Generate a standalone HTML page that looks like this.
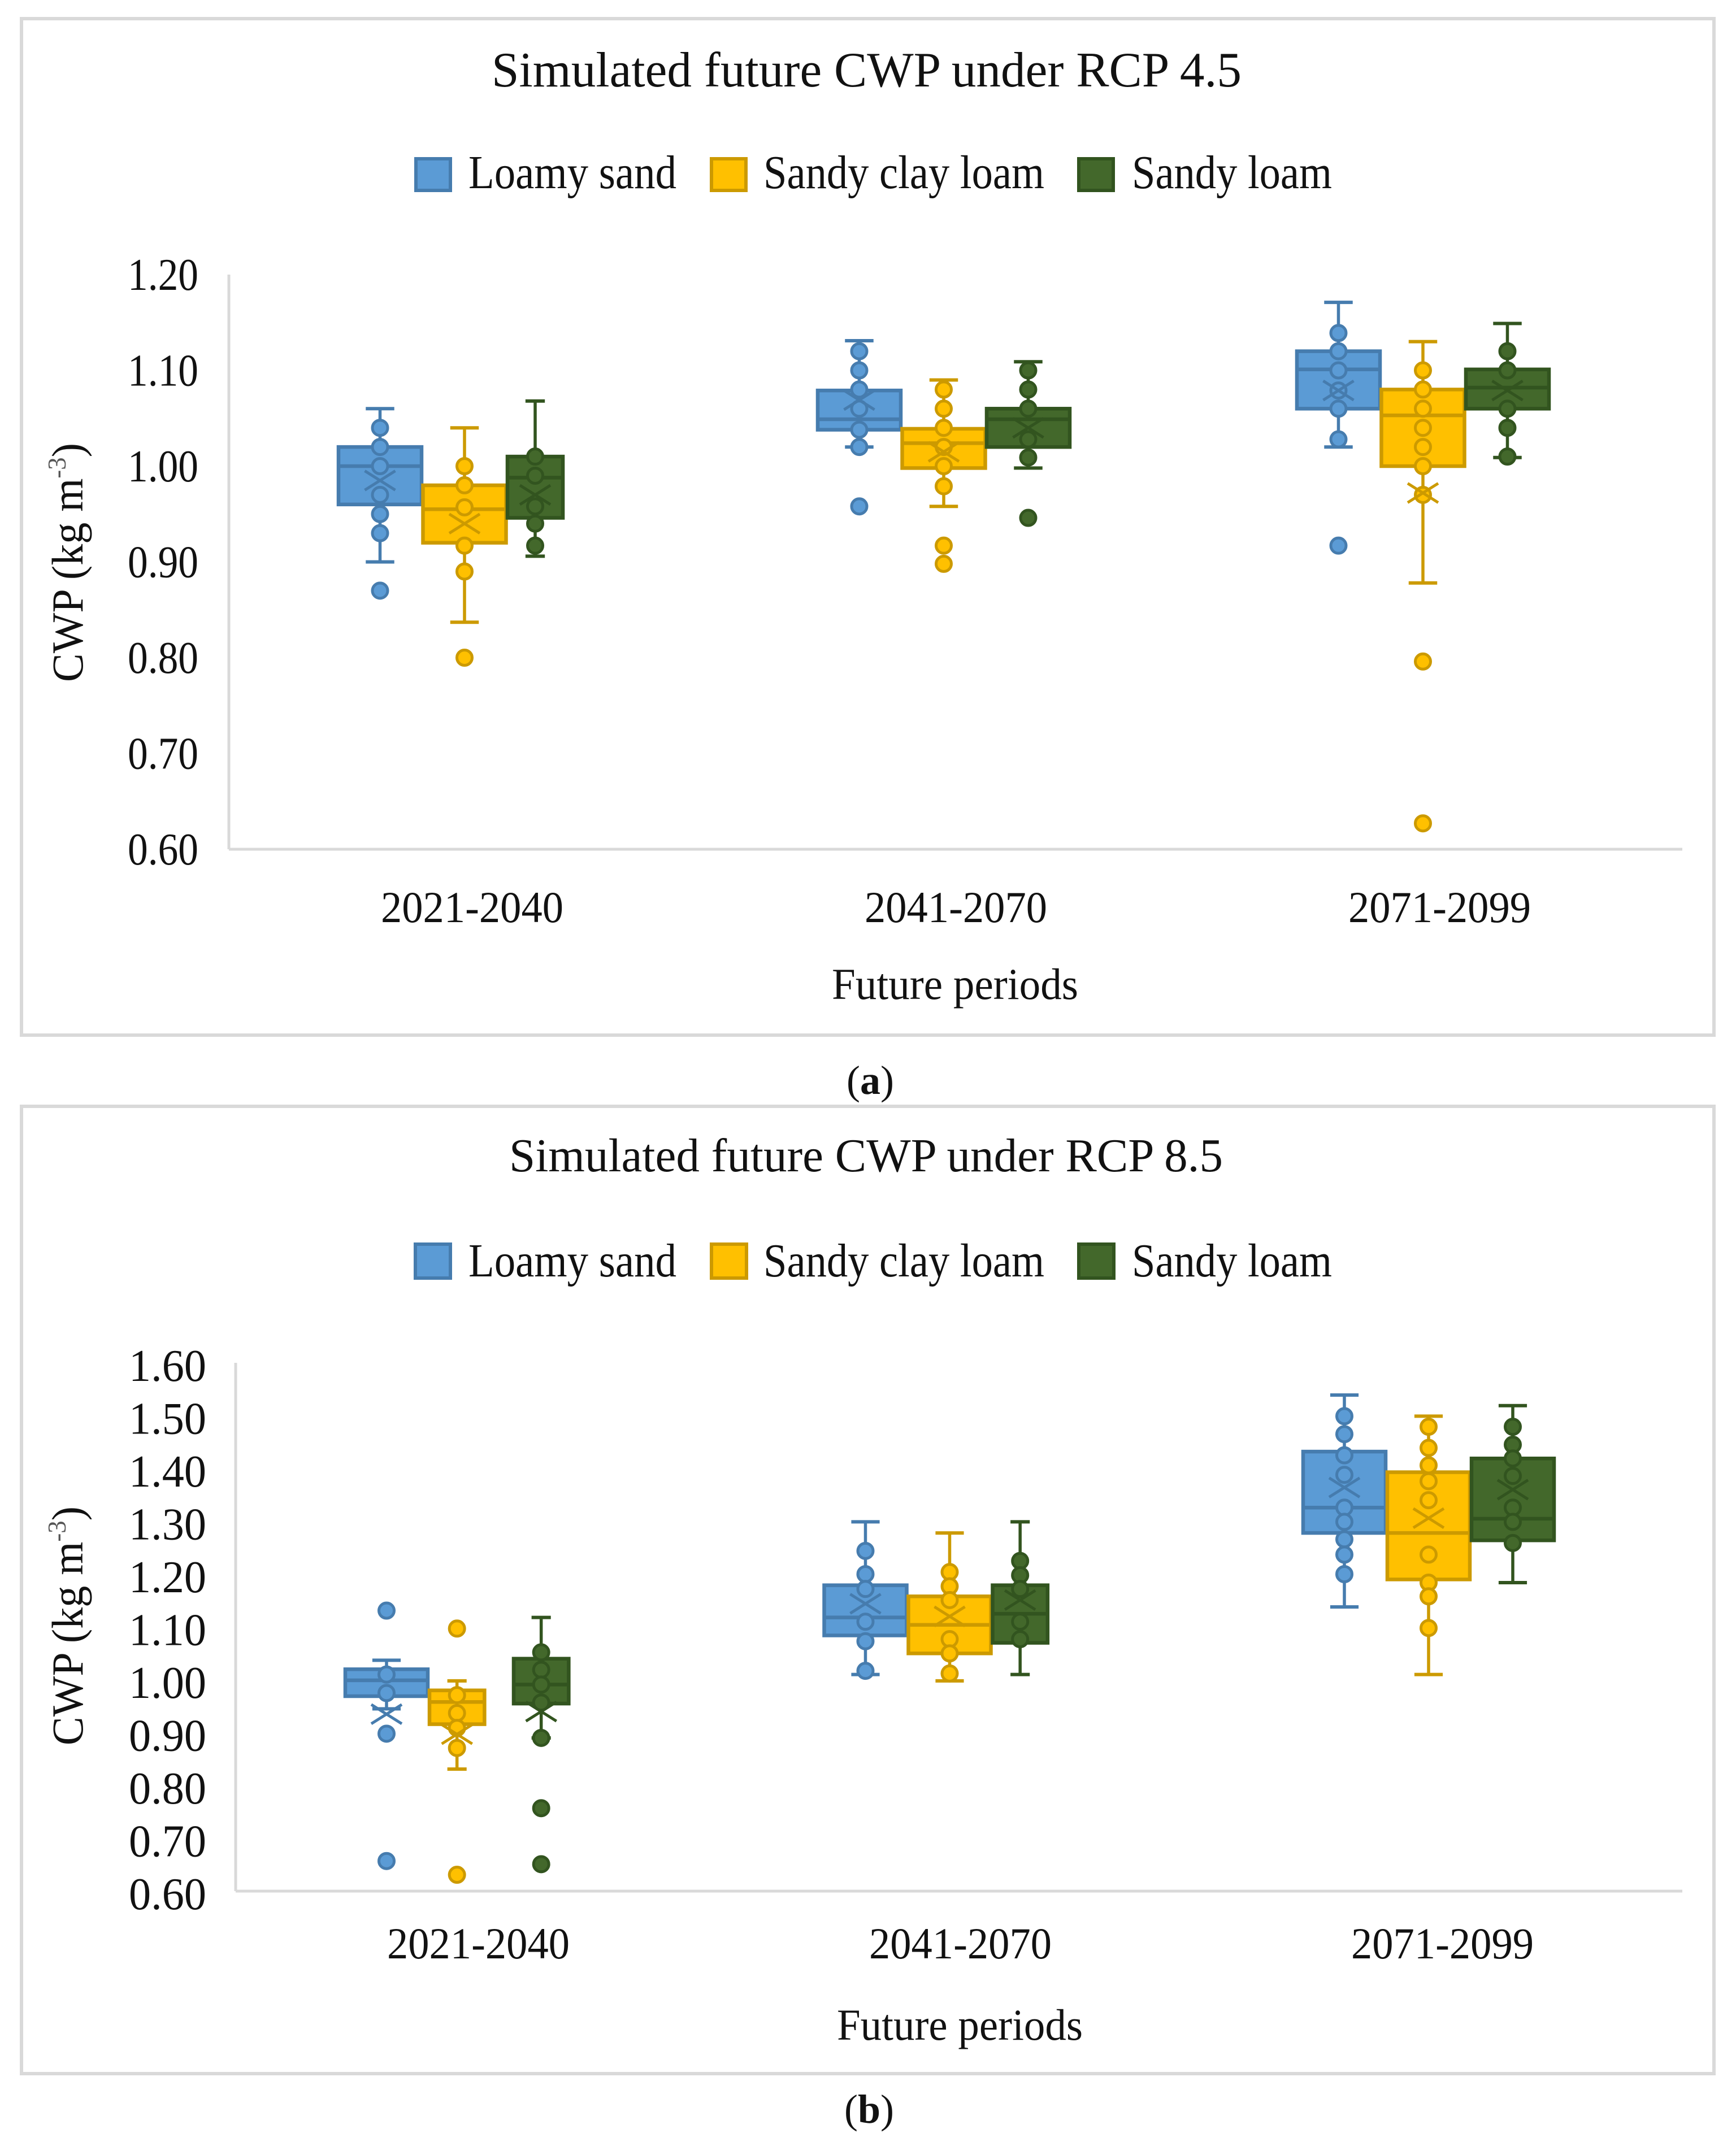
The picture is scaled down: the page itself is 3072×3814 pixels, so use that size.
<!DOCTYPE html>
<html lang="en">
<head>
<meta charset="utf-8">
<title>Simulated future CWP under RCP 4.5 and RCP 8.5</title>
<style>
  html, body { margin: 0; padding: 0; background: #fff; }
  svg { display: block; }
  text { font-family: "Liberation Serif", "Times New Roman", serif; fill: #111; }
</style>
</head>
<body>
<svg id="figure" xmlns="http://www.w3.org/2000/svg" width="3072" height="3814" viewBox="0 0 3072 3814">
  <rect x="0" y="0" width="3072" height="3814" fill="#ffffff"/>

  <g id="panel-a">
    <rect x="38" y="33" width="2995" height="1799" fill="#fff" stroke="#d9d9d9" stroke-width="6"/>
    <text x="870" y="153" font-size="88" textLength="1327" lengthAdjust="spacingAndGlyphs">Simulated future CWP under RCP 4.5</text>
    <g>
      <rect x="736" y="281" width="61" height="56" fill="#5b9bd5" stroke="#467cae" stroke-width="6"/>
      <text x="829" y="333" font-size="84" textLength="368" lengthAdjust="spacingAndGlyphs">Loamy sand</text>
      <rect x="1259" y="281" width="61" height="56" fill="#ffc000" stroke="#cc9a00" stroke-width="6"/>
      <text x="1351" y="333" font-size="84" textLength="497" lengthAdjust="spacingAndGlyphs">Sandy clay loam</text>
      <rect x="1909" y="281" width="61" height="56" fill="#43682b" stroke="#32541f" stroke-width="6"/>
      <text x="2003" y="333" font-size="84" textLength="354" lengthAdjust="spacingAndGlyphs">Sandy loam</text>
    </g>
    <text transform="translate(146,1207) rotate(-90)" font-size="78" textLength="423" lengthAdjust="spacingAndGlyphs">CWP (kg m<tspan font-size="46" dy="-30" fill="#555">-3</tspan><tspan dy="30">)</tspan></text>
    <text x="1472" y="1768" font-size="78" textLength="436" lengthAdjust="spacingAndGlyphs">Future periods</text>
  </g>
  <text x="1498" y="1936" font-size="72">(<tspan font-weight="bold">a</tspan>)</text>

  <g id="panel-b">
    <rect x="38" y="1958" width="2995" height="1712" fill="#fff" stroke="#d9d9d9" stroke-width="6"/>
    <text x="901" y="2073" font-size="84" textLength="1263" lengthAdjust="spacingAndGlyphs">Simulated future CWP under RCP 8.5</text>
    <g>
      <rect x="735" y="2202" width="62" height="60" fill="#5b9bd5" stroke="#467cae" stroke-width="6"/>
      <text x="829" y="2259" font-size="84" textLength="368" lengthAdjust="spacingAndGlyphs">Loamy sand</text>
      <rect x="1259" y="2202" width="62" height="60" fill="#ffc000" stroke="#cc9a00" stroke-width="6"/>
      <text x="1351" y="2259" font-size="84" textLength="497" lengthAdjust="spacingAndGlyphs">Sandy clay loam</text>
      <rect x="1909" y="2202" width="62" height="60" fill="#43682b" stroke="#32541f" stroke-width="6"/>
      <text x="2003" y="2259" font-size="84" textLength="354" lengthAdjust="spacingAndGlyphs">Sandy loam</text>
    </g>
    <text transform="translate(146,3089) rotate(-90)" font-size="78" textLength="423" lengthAdjust="spacingAndGlyphs">CWP (kg m<tspan font-size="46" dy="-30" fill="#555">-3</tspan><tspan dy="30">)</tspan></text>
    <text x="1481" y="3610" font-size="78" textLength="435" lengthAdjust="spacingAndGlyphs">Future periods</text>
  </g>
  <text x="1494" y="3757" font-size="72">(<tspan font-weight="bold">b</tspan>)</text>
</svg>

<script>
// ---- Shared categories ----
const categories = ["2021-2040", "2041-2070", "2071-2099"];
const seriesNames = ["Loamy sand", "Sandy clay loam", "Sandy loam"];

// ---- RCP 4.5: each array is [period][soil] ----
const rcp45Ticks = ["1.20", "1.10", "1.00", "0.90", "0.80", "0.70", "0.60"];
const rcp45WhiskerHigh = [[1.06, 1.04, 1.068], [1.131, 1.09, 1.109], [1.171, 1.13, 1.149]];
const rcp45Q3 = [[1.02, 0.98, 1.01], [1.079, 1.039, 1.06], [1.12, 1.08, 1.101]];
const rcp45Median = [[1.0, 0.955, 0.988], [1.049, 1.024, 1.049], [1.101, 1.053, 1.082]];
const rcp45Q1 = [[0.96, 0.92, 0.946], [1.038, 0.998, 1.02], [1.06, 1.0, 1.06]];
const rcp45WhiskerLow = [[0.9, 0.837, 0.906], [1.02, 0.958, 0.998], [1.02, 0.878, 1.009]];
const rcp45Mean = [[0.985, 0.94, 0.97], [1.069, 1.015, 1.04], [1.079, 0.972, 1.079]];
const rcp45Points = [
  [[1.04, 1.02, 1.0, 0.97, 0.95, 0.93, 0.87],
   [1.0, 0.98, 0.957, 0.917, 0.89, 0.8],
   [1.01, 0.99, 0.958, 0.94, 0.917]],
  [[1.12, 1.1, 1.08, 1.06, 1.038, 1.02, 0.958],
   [1.08, 1.06, 1.04, 1.02, 1.0, 0.979, 0.917, 0.898],
   [1.1, 1.08, 1.06, 1.028, 1.009, 0.946]],
  [[1.139, 1.12, 1.1, 1.079, 1.06, 1.028, 0.917],
   [1.1, 1.08, 1.06, 1.04, 1.02, 1.0, 0.97, 0.796, 0.627],
   [1.12, 1.1, 1.06, 1.04, 1.01]]
];

// ---- RCP 8.5: each array is [period][soil] ----
const rcp85Ticks = ["1.60", "1.50", "1.40", "1.30", "1.20", "1.10", "1.00", "0.90", "0.80", "0.70", "0.60"];
const rcp85WhiskerHigh = [[1.037, 0.998, 1.118], [1.299, 1.278, 1.299], [1.539, 1.499, 1.519]];
const rcp85Q3 = [[1.02, 0.98, 1.04], [1.179, 1.158, 1.179], [1.432, 1.393, 1.419]];
const rcp85Median = [[0.999, 0.958, 0.991], [1.118, 1.104, 1.125], [1.326, 1.278, 1.305]];
const rcp85Q1 = [[0.969, 0.916, 0.955], [1.084, 1.05, 1.07], [1.278, 1.19, 1.264]];
const rcp85WhiskerLow = [[0.945, 0.831, 0.89], [1.01, 0.998, 1.01], [1.138, 1.01, 1.184]];
const rcp85Mean = [[0.935, 0.897, 0.94], [1.144, 1.12, 1.151], [1.364, 1.306, 1.36]];
const rcp85Points = [
  [[1.131, 1.01, 0.975, 0.898, 0.657],
   [1.097, 0.971, 0.937, 0.909, 0.871, 0.631],
   [1.052, 1.019, 0.991, 0.957, 0.89, 0.757, 0.651]],
  [[1.244, 1.2, 1.172, 1.11, 1.073, 1.017],
   [1.204, 1.177, 1.151, 1.077, 1.05, 1.012],
   [1.225, 1.198, 1.172, 1.11, 1.077]],
  [[1.499, 1.465, 1.425, 1.388, 1.326, 1.299, 1.266, 1.237, 1.2],
   [1.479, 1.439, 1.406, 1.376, 1.34, 1.237, 1.184, 1.158, 1.098],
   [1.479, 1.445, 1.419, 1.386, 1.326, 1.299, 1.259]]
];

const fillColors = ["#5b9bd5", "#ffc000", "#43682b"];
const strokeColors = ["#467cae", "#cc9a00", "#32541f"];
const svgNS = "http://www.w3.org/2000/svg";

function make(tag, attrs, parent) {
  const el = document.createElementNS(svgNS, tag);
  for (const k in attrs) el.setAttribute(k, attrs[k]);
  parent.appendChild(el);
  return el;
}

function drawPanel(p) {
  const root = document.getElementById(p.id);
  const yScale = v => p.yBottomPx - (v - p.yMin) / (p.yMax - p.yMin) * (p.yBottomPx - p.yTopPx);
  const boxLeft = (c, s) => p.boxX0 + p.catStep * c + p.seriesStep * s;
  const isNarrow = (c, s) => p.narrow.indexOf(c + "-" + s) >= 0;
  const boxWidth = (c, s) => isNarrow(c, s) ? p.boxW * 0.68 : p.boxW;

  const yAxis = make("line", {x1: p.axisX, x2: p.axisX, y1: p.yTopPx, y2: p.yBottomPx, stroke: "#d9d9d9", "stroke-width": 5}, root);
  
  
  const xAxis = make("line", {x1: p.axisX, x2: p.axisEnd, y1: p.yBottomPx, y2: p.yBottomPx, stroke: "#d9d9d9", "stroke-width": 5}, root);
  
  

  p.ticks.forEach(t => {
    const label = make("text", {x: p.tickRight - p.tickW, y: yScale(parseFloat(t)) + p.tickDy, "font-size": 80, textLength: p.tickW, lengthAdjust: "spacingAndGlyphs"}, root);
    
    
    label.textContent = t;
  });

  categories.forEach((cat, c) => {
    const label = make("text", {x: p.labelX0 + p.labelStep * c - 161, y: p.labelY, "font-size": 78, textLength: 323, lengthAdjust: "spacingAndGlyphs"}, root);
    
    
    label.textContent = cat;
  });

  // later boxes overlap earlier ones, so draw in series order per category
  categories.forEach((cat, c) => {
    seriesNames.forEach((name, s) => {
      const fill = fillColors[s], stroke = strokeColors[s];
      const w = boxWidth(c, s), left = boxLeft(c, s), cx = left + w / 2;
      const capW = w * 0.33;
      const g = make("g", {}, root);
      
      

      const hi = yScale(p.whiskerHigh[c][s]), q3 = yScale(p.q3[c][s]),
            q1 = yScale(p.q1[c][s]), lo = yScale(p.whiskerLow[c][s]), med = yScale(p.median[c][s]);

      const whiskerUp = make("line", {x1: cx, x2: cx, y1: hi, y2: q3, stroke: stroke, "stroke-width": 5.5}, g);
      
      
      const whiskerDown = make("line", {x1: cx, x2: cx, y1: q1, y2: lo, stroke: stroke, "stroke-width": 5.5}, g);
      
      
      const capUp = make("line", {x1: cx - capW / 2, x2: cx + capW / 2, y1: hi, y2: hi, stroke: stroke, "stroke-width": 6}, g);
      
      
      const capDown = make("line", {x1: cx - capW / 2, x2: cx + capW / 2, y1: lo, y2: lo, stroke: stroke, "stroke-width": 6}, g);
      
      

      const box = make("rect", {x: left + 3, y: q3, width: w - 6, height: q1 - q3, fill: fill, stroke: stroke, "stroke-width": 6.5}, g);
      
      
      const medLine = make("line", {x1: left + 3, x2: left + w - 3, y1: med, y2: med, stroke: stroke, "stroke-width": 6.5}, g);
      
      

      p.points[c][s].forEach(v => {
        const dot = make("circle", {cx: cx, cy: yScale(v), r: 13.5, fill: fill, stroke: stroke, "stroke-width": 5}, g);
        
        
      });

      const my = yScale(p.mean[c][s]);
      const mean = make("path", {d: "M" + (cx - 27) + " " + (my - 17) + "L" + (cx + 27) + " " + (my + 17) + "M" + (cx - 27) + " " + (my + 17) + "L" + (cx + 27) + " " + (my - 17), fill: "none", stroke: stroke, "stroke-width": 5}, g);
      
      
    });
  });
}

drawPanel({
  id: "panel-a", ticks: rcp45Ticks, whiskerHigh: rcp45WhiskerHigh, q3: rcp45Q3, median: rcp45Median,
  q1: rcp45Q1, whiskerLow: rcp45WhiskerLow, mean: rcp45Mean, points: rcp45Points,
  yMin: 0.6, yMax: 1.2, yTopPx: 486, yBottomPx: 1503, axisX: 405, axisEnd: 2977,
  boxX0: 596, catStep: 848, seriesStep: 149.5, boxW: 153, narrow: ["0-2"],
  tickRight: 351, tickW: 125, tickDy: 27, labelX0: 835, labelStep: 856, labelY: 1632
});
drawPanel({
  id: "panel-b", ticks: rcp85Ticks, whiskerHigh: rcp85WhiskerHigh, q3: rcp85Q3, median: rcp85Median,
  q1: rcp85Q1, whiskerLow: rcp85WhiskerLow, mean: rcp85Mean, points: rcp85Points,
  yMin: 0.6, yMax: 1.6, yTopPx: 2412, yBottomPx: 3347, axisX: 417, axisEnd: 2977,
  boxX0: 608, catStep: 847.5, seriesStep: 149, boxW: 152, narrow: ["0-1", "0-2", "1-2"],
  tickRight: 365, tickW: 137, tickDy: 32, labelX0: 846, labelStep: 853, labelY: 3466
});
</script>
</body>
</html>
